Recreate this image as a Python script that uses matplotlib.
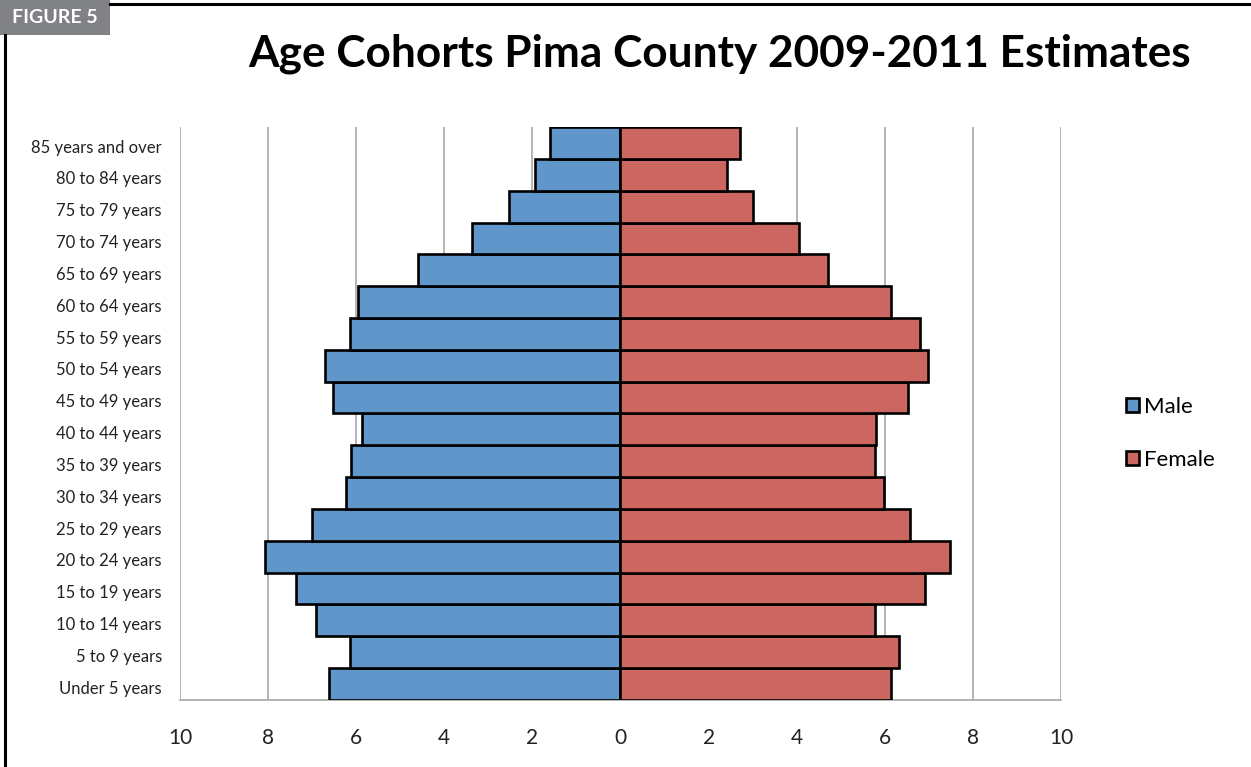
import matplotlib.pyplot as plt
from matplotlib.patches import Rectangle, Patch

plt.rcParams['font.family'] = ['Lato', 'DejaVu Sans']

# Age cohorts, bottom to top
ages = ["Under 5 years", "5 to 9 years", "10 to 14 years", "15 to 19 years",
        "20 to 24 years", "25 to 29 years", "30 to 34 years", "35 to 39 years",
        "40 to 44 years", "45 to 49 years", "50 to 54 years", "55 to 59 years",
        "60 to 64 years", "65 to 69 years", "70 to 74 years", "75 to 79 years",
        "80 to 84 years", "85 years and over"]

# Percent of population
male = [6.61, 6.13, 6.92, 7.36, 8.06, 7.01, 6.24, 6.11, 5.86, 6.52,
        6.70, 6.13, 5.95, 4.59, 3.36, 2.54, 1.95, 1.59]
female = [6.13, 6.33, 5.77, 6.92, 7.47, 6.58, 5.99, 5.77, 5.79, 6.52,
          6.99, 6.79, 6.13, 4.72, 4.06, 3.00, 2.41, 2.72]

ticks = [-10, -8, -6, -4, -2, 0, 2, 4, 6, 8, 10]

blue = "#6096c9"
red = "#cc6660"

fig = plt.figure(figsize=(12.51, 7.67), dpi=100)
ax = fig.add_axes([0.1439, 0.0874, 0.7042, 0.747])

pos = range(len(ages))
ax.barh(pos, [-m for m in male], height=1.0, color=blue, edgecolor="black",
        linewidth=1.9, zorder=3)
ax.barh(pos, female, height=1.0, color=red, edgecolor="black",
        linewidth=1.9, zorder=3)

ax.set_xlim(-10, 10)
ax.set_ylim(-0.5, len(ages) - 0.5)
ax.set_xticks(ticks)
ax.set_xticklabels([str(abs(t)) for t in ticks], fontsize=15, color="#222222")
ax.set_yticks([p - 0.1 for p in pos])
ax.set_yticklabels(ages, fontsize=12, color="#222222")
ax.tick_params(axis="both", length=0)
ax.tick_params(axis="x", pad=20)
ax.tick_params(axis="y", pad=13)

for t in ticks:
    ax.axvline(t, color="#a8a8a8", linewidth=1.2, zorder=1)
for s in ["top", "right", "left"]:
    ax.spines[s].set_visible(False)
ax.spines["bottom"].set_color("#a8a8a8")
ax.spines["bottom"].set_linewidth(1.2)

fig.text(0.5755, 0.93, "Age Cohorts Pima County 2009-2011 Estimates",
         ha="center", va="center", fontsize=31.8, fontweight="bold")

handles = [Patch(facecolor=blue, edgecolor="black", linewidth=1.9, label="Male"),
           Patch(facecolor=red, edgecolor="black", linewidth=1.9, label="Female")]
fig.legend(handles=handles, loc="center left", bbox_to_anchor=(0.884, 0.435),
           frameon=False, fontsize=16, handlelength=0.6, handleheight=0.6,
           handletextpad=0.2, labelspacing=1.5)

# page frame with the figure tag
fig.add_artist(plt.Line2D([0.088, 1.0], [0.995, 0.995], color="black",
                          linewidth=2.2, transform=fig.transFigure))
fig.add_artist(plt.Line2D([0.004, 0.004], [0.0, 0.955], color="black",
                          linewidth=2.2, transform=fig.transFigure))
fig.add_artist(Rectangle((0.0, 0.955), 0.088, 0.045, transform=fig.transFigure,
                         facecolor="#808285", edgecolor="none"))
fig.text(0.044, 0.977, "FIGURE 5", ha="center", va="center", fontsize=14,
         fontweight="bold", color="white")

fig.savefig("out.png", dpi=100)
